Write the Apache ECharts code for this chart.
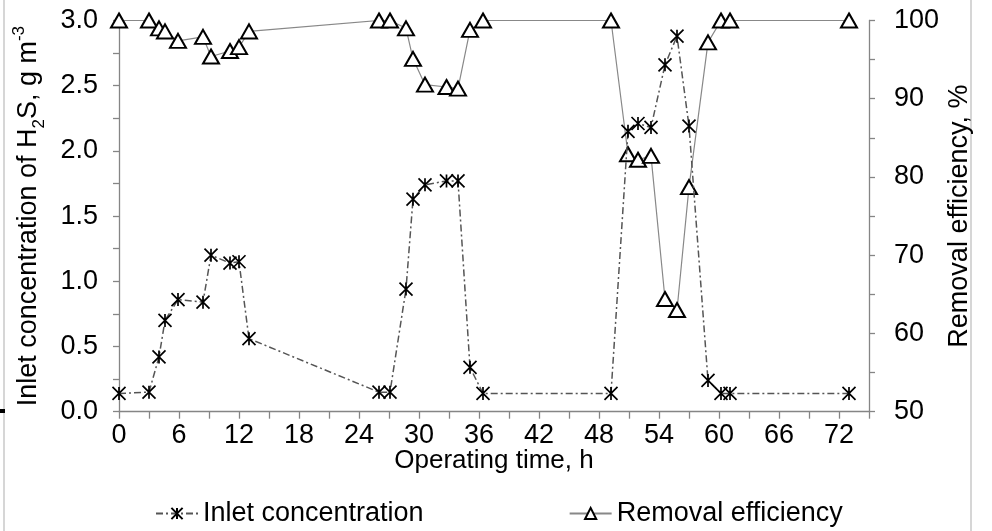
<!DOCTYPE html>
<html>
<head>
<meta charset="utf-8">
<script src="https://cdn.jsdelivr.net/npm/echarts@6/dist/echarts.min.js"></script>
<style>
  html, body { margin: 0; padding: 0; background: #fff; }
  #chart { width: 992px; height: 531px; }
</style>
</head>
<body>
<div id="chart"></div>
<script>
// operating time, h (shared by both series)
const timeH = [0, 3, 4, 4.6, 5.9, 8.4, 9.2, 11.1, 12, 13, 26, 27.1, 28.7, 29.4, 30.6,
  32.75, 33.9, 35.1, 36.4, 49.2, 50.9, 51.9, 53.2, 54.6, 55.8, 57, 58.9, 60.2, 61.1, 73];
// inlet H2S concentration, g m-3
const inletConc = [0.14, 0.15, 0.42, 0.7, 0.86, 0.84, 1.2, 1.14, 1.15, 0.56, 0.15, 0.15, 0.94, 1.63,
  1.74, 1.77, 1.77, 0.34, 0.14, 0.14, 2.15, 2.21, 2.18, 2.66, 2.88, 2.19, 0.24, 0.14, 0.14, 0.14];
// removal efficiency, %
const removalEff = [100, 100, 99.0, 98.6, 97.4, 97.9, 95.4, 96.1, 96.6, 98.6, 100, 100, 99.0, 95.1,
  91.8, 91.5, 91.3, 98.8, 100, 100, 82.9, 82.2, 82.7, 64.4, 63.0, 78.7, 97.2, 100, 100, 100];
const seriesNames = ["Inlet concentration", "Removal efficiency"];

const font = "Liberation Sans, Arial, sans-serif";
const axisGrey = "#858585";
const starPath = "path://M0,0L12,12M12,0L0,12M6,0L6,12";

let chart = echarts.init(document.getElementById("chart"));
let option = {
  animation: false,
  textStyle: { fontFamily: font },
  grid: { left: 119, right: 123, top: 20.5, bottom: 119.3 },
  legend: {
    left: 150,
    top: 495,
    itemGap: 145,
    itemWidth: 42,
    itemHeight: 14,
    textStyle: { fontSize: 27, color: "#000", fontFamily: font },
    data: seriesNames,
  },
  xAxis: {
    type: "value",
    min: 0,
    max: 75,
    interval: 3,
    name: "Operating time, h",
    nameLocation: "middle",
    nameGap: 36,
    nameMoveOverlap: false,
    nameTextStyle: { fontSize: 26, color: "#000" },
    splitLine: { show: false },
    axisLine: { lineStyle: { color: axisGrey, width: 1.3 } },
    axisTick: { length: 7, lineStyle: { color: axisGrey, width: 1.3 } },
    axisLabel: {
      fontSize: 27,
      color: "#000",
      margin: 10,
      formatter: (v) => (v % 6 === 0 && v <= 72 ? String(v) : ""),
    },
  },
  yAxis: [
    {
      type: "value",
      min: 0,
      max: 3,
      interval: 0.25,
      name: "Inlet concentration of H{sub|2}S, g m{sup|-3}",
      nameLocation: "middle",
      nameRotate: 90,
      nameGap: 75,
      nameMoveOverlap: false,
      nameTextStyle: {
        fontSize: 27,
        color: "#000",
        lineHeight: 30,
        rich: {
          sub: { fontSize: 17, verticalAlign: "bottom", lineHeight: 17, padding: [0, 0, -4, 0] },
          sup: { fontSize: 17, verticalAlign: "top", lineHeight: 17, padding: [-3, 0, 0, 0] },
        },
      },
      splitLine: { show: false },
      axisLine: { show: true, lineStyle: { color: axisGrey, width: 1.3 } },
      axisTick: { show: true, length: 6, lineStyle: { color: axisGrey, width: 1.3 } },
      axisLabel: {
        fontSize: 27,
        color: "#000",
        margin: 21,
        formatter: (v) => (Math.abs(v * 2 - Math.round(v * 2)) < 1e-6 ? v.toFixed(1) : ""),
      },
    },
    {
      type: "value",
      position: "right",
      min: 50,
      max: 100,
      interval: 5,
      name: "Removal efficiency, %",
      nameLocation: "middle",
      nameRotate: 90,
      nameGap: 77,
      nameMoveOverlap: false,
      nameTextStyle: { fontSize: 27, color: "#000" },
      splitLine: { show: false },
      axisLine: { show: true, lineStyle: { color: axisGrey, width: 1.3 } },
      axisTick: { show: true, length: 6, lineStyle: { color: axisGrey, width: 1.3 } },
      axisLabel: {
        fontSize: 27,
        color: "#000",
        margin: 25,
        formatter: (v) => (v % 10 === 0 ? String(v) : ""),
      },
    },
  ],
  series: [
    {
      name: seriesNames[0],
      type: "line",
      yAxisIndex: 0,
      symbol: starPath,
      symbolSize: 13,
      z: 3,
      lineStyle: { color: "#555", width: 1.5, type: [7, 3, 2, 3] },
      itemStyle: { color: "#000", borderColor: "#000", borderWidth: 1.7 },
      data: timeH.map((t, i) => [t, inletConc[i]]),
    },
    {
      name: seriesNames[1],
      type: "line",
      yAxisIndex: 1,
      symbol: "triangle",
      symbolSize: [16, 14],
      z: 2,
      lineStyle: { color: "#888", width: 1.2 },
      itemStyle: { color: "#fff", borderColor: "#000", borderWidth: 2 },
      data: timeH.map((t, i) => [t, removalEff[i]]),
    },
  ],
  graphic: [
    { type: "line", shape: { x1: 4, y1: 0, x2: 4, y2: 531 }, style: { stroke: "#c8c8c8", lineWidth: 1.5 } },
    { type: "line", shape: { x1: 971, y1: 0, x2: 971, y2: 531 }, style: { stroke: "#c8c8c8", lineWidth: 1.5 } },
    { type: "rect", shape: { x: 0, y: 409, width: 5, height: 4 }, style: { fill: "#000" } },
  ],
};

option && chart.setOption(option);
</script>
</body>
</html>
